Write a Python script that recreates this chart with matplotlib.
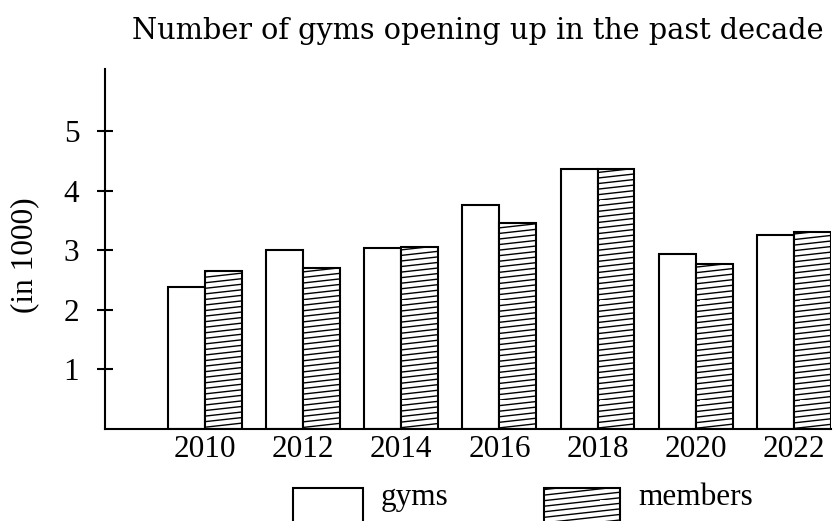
import numpy as np
import matplotlib
matplotlib.use("Agg")
import matplotlib.pyplot as plt
import matplotlib.hatch as mhatch
from matplotlib.patches import Rectangle
from matplotlib.path import Path

years = ["2010", "2012", "2014", "2016", "2018", "2020", "2022"]
gyms = [2.38, 3.01, 3.04, 3.76, 4.37, 2.94, 3.26]
members = [2.66, 2.70, 3.06, 3.47, 4.37, 2.78, 3.31]
yticks = [1, 2, 3, 4, 5]
title = "Number of gyms opening up in the past decade"
ylabel = "(in 1000)"
series_names = ["gyms", "members"]


# slightly slanted horizontal hatch (replaces '-')
class SlantHatch(mhatch.HatchPatternBase):
    def __init__(self, hatch, density):
        self.num_lines = int((hatch.count('-') + hatch.count('+')) * density)
        self.num_vertices = self.num_lines * 2 * 2

    def set_vertices_and_codes(self, vertices, codes):
        n = self.num_lines
        rise = 2.0 / n
        k = 0
        for i in range(n):
            y0 = i / n
            for shift in (0.0, -1.0):
                vertices[k] = (0.0, y0 + shift)
                vertices[k + 1] = (1.0, y0 + rise + shift)
                codes[k] = Path.MOVETO
                codes[k + 1] = Path.LINETO
                k += 2


mhatch._hatch_types = [SlantHatch if t is mhatch.HorizontalHatch else t
                       for t in mhatch._hatch_types]

plt.rcParams['font.family'] = ['Liberation Serif']
plt.rcParams['hatch.linewidth'] = 1.0

fig = plt.figure(figsize=(8.4, 5.21), dpi=100)
ax = fig.add_axes([105 / 840, 1 - 429 / 521, (831 - 105) / 840, (429 - 69) / 521])

x = np.arange(len(years))
w = 0.377
ax.bar(x - w / 2, gyms, width=w, facecolor='white', edgecolor='black', linewidth=1.5)
ax.bar(x + w / 2, members, width=w, facecolor='white', edgecolor='black', linewidth=1.5,
       hatch='---')

ax.set_xlim(-1.02, 6.38)
ax.set_ylim(0, 6.05)
for s in ['top', 'right']:
    ax.spines[s].set_visible(False)
for s in ['left', 'bottom']:
    ax.spines[s].set_linewidth(1.5)

fs = 22.5
ax.set_yticks(yticks)
ax.set_yticklabels([str(v) for v in yticks], fontsize=fs)
ax.tick_params(axis='y', direction='inout', length=11, width=1.5, pad=13)
ax.set_xticks(x)
ax.set_xticklabels(years, fontsize=fs)
ax.tick_params(axis='x', length=0, pad=4)

fig.text(478 / 840, 1 - 31 / 521, title, ha='center', va='center', fontsize=20.7,
         family='DejaVu Serif')
fig.text(25 / 840, 1 - 255 / 521, ylabel, rotation=90, ha='center', va='center', fontsize=fs)

# legend
leg_items = [(293, 363, 381, None), (544, 620, 638, '---')]
for (x0, x1, tx, h), name in zip(leg_items, series_names):
    r = Rectangle((x0 / 840, 1 - 560 / 521), (x1 - x0) / 840, (560 - 488) / 521,
                  transform=fig.transFigure, facecolor='white', edgecolor='black',
                  linewidth=1.5, hatch=h)
    fig.patches.append(r)
    fig.text(tx / 840, 1 - 505 / 521, name, ha='left', va='baseline', fontsize=fs)

fig.savefig("out.png", dpi=100)
